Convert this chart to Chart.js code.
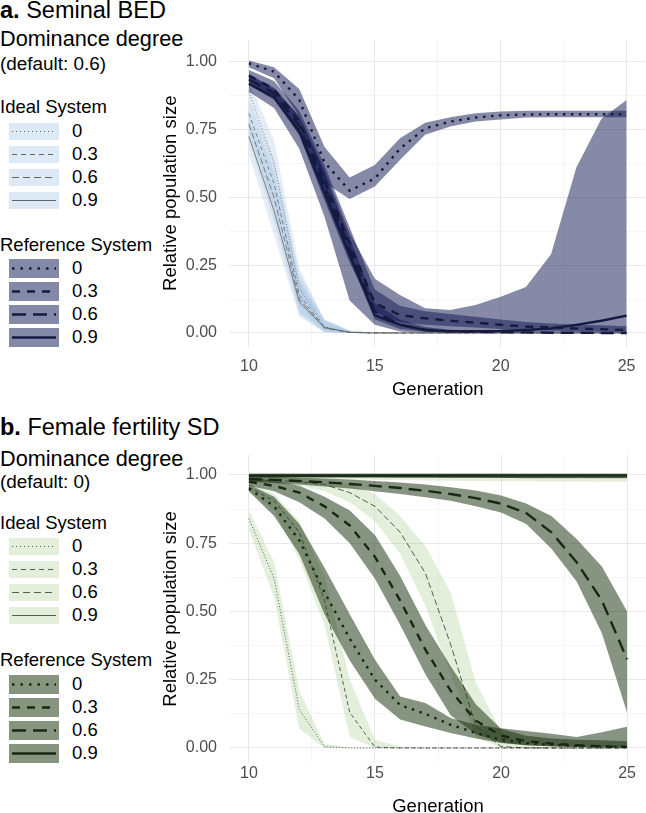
<!DOCTYPE html>
<html>
<head>
<meta charset="utf-8">
<script src="https://cdn.jsdelivr.net/npm/chart.js@4"></script>
<style>
  body { margin: 0; width: 646px; height: 813px; overflow: hidden; background: #fff; position: relative;
         font-family: 'Liberation Sans', Arial, sans-serif; }
  .t { position: absolute; left: 0; white-space: nowrap; line-height: 1; color: #000; }
  .sw { position: absolute; left: 9px; width: 50px; }
  .sw svg { display: block; }
  canvas { position: absolute; left: 150px; }
</style>
</head>
<body>
<div class="t" style="top:-1.5px;font-size:23.5px"><b>a.</b> Seminal BED</div>
<div class="t" style="top:28.3px;font-size:21.7px">Dominance degree</div>
<div class="t" style="top:55px;font-size:18.9px">(default: 0.6)</div>
<div class="t" style="top:98px;font-size:18.5px">Ideal System</div>
<div class="t" style="top:236px;font-size:18.5px">Reference System</div>

<div class="t" style="top:416px;font-size:23.5px"><b>b.</b> Female fertility SD</div>
<div class="t" style="top:447.6px;font-size:21.7px">Dominance degree</div>
<div class="t" style="top:473px;font-size:18.9px">(default: 0)</div>
<div class="t" style="top:513.5px;font-size:18.5px">Ideal System</div>
<div class="t" style="top:651px;font-size:18.5px">Reference System</div>

<div id="legends"></div>
<canvas id="bed" width="496" height="405" style="top:0px"></canvas>
<canvas id="ff" width="496" height="410" style="top:415px"></canvas>

<script>
// generations en as-ticks
const gens = [10, 11, 12, 13, 14, 15, 16, 17, 18, 19, 20, 21, 22, 23, 24, 25];
const dominance = ['0', '0.3', '0.6', '0.9'];
const yTicks = [0, 0.25, 0.5, 0.75, 1];
const yTickLabels = ['0.00', '0.25', '0.50', '0.75', '1.00'];
const yMinor = [0.125, 0.375, 0.625, 0.875];
const xTicks = [10, 15, 20, 25];
const xTickLabels = ['10', '15', '20', '25'];
const xMinor = [12.5, 17.5, 22.5];

// a. Seminal BED - ideal system
const bedIdeal0    = [0.89, 0.63, 0.165, 0.023, 0.002, 0, 0, 0, 0, 0, 0, 0, 0, 0, 0, 0];
const bedIdeal0Lo  = [0.84, 0.55, 0.10, 0.005, 0, 0, 0, 0, 0, 0, 0, 0, 0, 0, 0, 0];
const bedIdeal0Hi  = [0.93, 0.71, 0.24, 0.05, 0.008, 0.002, 0, 0, 0, 0, 0, 0, 0, 0, 0, 0];
const bedIdeal03   = [0.81, 0.55, 0.14, 0.02, 0.002, 0, 0, 0, 0, 0, 0, 0, 0, 0, 0, 0];
const bedIdeal03Lo = [0.75, 0.46, 0.08, 0.004, 0, 0, 0, 0, 0, 0, 0, 0, 0, 0, 0, 0];
const bedIdeal03Hi = [0.86, 0.64, 0.22, 0.05, 0.01, 0.002, 0, 0, 0, 0, 0, 0, 0, 0, 0, 0];
const bedIdeal06   = [0.77, 0.50, 0.125, 0.018, 0.002, 0, 0, 0, 0, 0, 0, 0, 0, 0, 0, 0];
const bedIdeal06Lo = [0.71, 0.41, 0.07, 0.003, 0, 0, 0, 0, 0, 0, 0, 0, 0, 0, 0, 0];
const bedIdeal06Hi = [0.83, 0.59, 0.20, 0.045, 0.008, 0.001, 0, 0, 0, 0, 0, 0, 0, 0, 0, 0];
const bedIdeal09   = [0.725, 0.45, 0.115, 0.02, 0.002, 0, 0, 0, 0, 0, 0, 0, 0, 0, 0, 0];
const bedIdeal09Lo = [0.66, 0.36, 0.06, 0.003, 0, 0, 0, 0, 0, 0, 0, 0, 0, 0, 0, 0];
const bedIdeal09Hi = [0.79, 0.54, 0.19, 0.045, 0.008, 0.001, 0, 0, 0, 0, 0, 0, 0, 0, 0, 0];

// a. Seminal BED - reference system
const bedRef0    = [0.995, 0.964, 0.86, 0.63, 0.525, 0.57, 0.68, 0.755, 0.78, 0.795, 0.803, 0.806, 0.807, 0.807, 0.807, 0.807];
const bedRef0Lo  = [0.98, 0.94, 0.80, 0.555, 0.494, 0.54, 0.638, 0.731, 0.762, 0.78, 0.788, 0.795, 0.796, 0.796, 0.796, 0.796];
const bedRef0Hi  = [1.005, 0.98, 0.90, 0.687, 0.574, 0.62, 0.718, 0.776, 0.796, 0.811, 0.817, 0.82, 0.82, 0.82, 0.82, 0.82];
const bedRef03   = [0.95, 0.90, 0.78, 0.56, 0.33, 0.11, 0.066, 0.054, 0.045, 0.038, 0.030, 0.024, 0.021, 0.016, 0.014, 0.011];
const bedRef03Lo = [0.93, 0.87, 0.73, 0.49, 0.26, 0.075, 0.04, 0.03, 0.025, 0.02, 0.015, 0.01, 0.008, 0.005, 0.004, 0.003];
const bedRef03Hi = [0.97, 0.93, 0.82, 0.62, 0.39, 0.16, 0.10, 0.08, 0.07, 0.06, 0.05, 0.04, 0.035, 0.03, 0.028, 0.025];
const bedRef06   = [0.935, 0.885, 0.765, 0.545, 0.31, 0.08, 0.03, 0.012, 0.006, 0.004, 0.003, 0.002, 0.001, 0.001, 0, 0];
const bedRef06Lo = [0.915, 0.86, 0.73, 0.50, 0.27, 0.05, 0.015, 0.004, 0.001, 0, 0, 0, 0, 0, 0, 0];
const bedRef06Hi = [0.955, 0.905, 0.80, 0.59, 0.35, 0.11, 0.05, 0.022, 0.012, 0.009, 0.007, 0.005, 0.004, 0.003, 0.002, 0.002];
const bedRef09   = [0.92, 0.87, 0.745, 0.52, 0.29, 0.065, 0.03, 0.011, 0.006, 0.006, 0.007, 0.011, 0.017, 0.03, 0.045, 0.064];
const bedRef09Lo = [0.89, 0.83, 0.68, 0.43, 0.12, 0.03, 0.005, 0, 0, 0, 0, 0, 0, 0, 0, 0];
const bedRef09Hi = [0.95, 0.90, 0.80, 0.60, 0.37, 0.20, 0.14, 0.091, 0.085, 0.103, 0.134, 0.17, 0.29, 0.61, 0.79, 0.86];

// b. Female fertility SD - ideal system
const ffIdeal0    = [0.84, 0.62, 0.14, 0.005, 0, 0, 0, 0, 0, 0, 0, 0, 0, 0, 0, 0];
const ffIdeal0Lo  = [0.80, 0.55, 0.07, 0, 0, 0, 0, 0, 0, 0, 0, 0, 0, 0, 0, 0];
const ffIdeal0Hi  = [0.87, 0.68, 0.21, 0.015, 0.002, 0, 0, 0, 0, 0, 0, 0, 0, 0, 0, 0];
const ffIdeal03   = [0.955, 0.905, 0.79, 0.54, 0.13, 0.003, 0, 0, 0, 0, 0, 0, 0, 0, 0, 0];
const ffIdeal03Lo = [0.94, 0.87, 0.69, 0.45, 0.04, 0, 0, 0, 0, 0, 0, 0, 0, 0, 0, 0];
const ffIdeal03Hi = [0.97, 0.93, 0.83, 0.63, 0.25, 0.03, 0.005, 0, 0, 0, 0, 0, 0, 0, 0, 0];
const ffIdeal06   = [0.985, 0.98, 0.975, 0.965, 0.935, 0.885, 0.79, 0.64, 0.38, 0.08, 0.005, 0, 0, 0, 0, 0];
const ffIdeal06Lo = [0.975, 0.97, 0.96, 0.94, 0.90, 0.83, 0.71, 0.52, 0.27, 0.04, 0, 0, 0, 0, 0, 0];
const ffIdeal06Hi = [0.995, 0.99, 0.99, 0.985, 0.965, 0.93, 0.85, 0.74, 0.57, 0.24, 0.06, 0.01, 0, 0, 0, 0];
const ffIdeal09   = [0.995, 0.995, 0.995, 0.995, 0.994, 0.994, 0.993, 0.993, 0.992, 0.992, 0.991, 0.99, 0.99, 0.99, 0.99, 0.99];
const ffIdeal09Lo = [0.985, 0.985, 0.985, 0.984, 0.983, 0.982, 0.981, 0.98, 0.979, 0.978, 0.977, 0.977, 0.976, 0.976, 0.975, 0.975];
const ffIdeal09Hi = [1.0, 1.0, 1.0, 1.0, 1.0, 1.0, 1.0, 1.0, 1.0, 1.0, 1.0, 1.0, 1.0, 1.0, 1.0, 1.0];

// b. Female fertility SD - reference system
const ffRef0    = [0.95, 0.885, 0.76, 0.57, 0.40, 0.25, 0.157, 0.125, 0.085, 0.055, 0.03, 0.018, 0.012, 0.008, 0.006, 0.004];
const ffRef0Lo  = [0.94, 0.85, 0.71, 0.49, 0.32, 0.18, 0.104, 0.079, 0.055, 0.035, 0.018, 0.01, 0.006, 0.004, 0.003, 0.002];
const ffRef0Hi  = [0.965, 0.92, 0.82, 0.66, 0.49, 0.323, 0.189, 0.165, 0.11, 0.085, 0.072, 0.062, 0.052, 0.04, 0.058, 0.078];
const ffRef03   = [0.975, 0.96, 0.935, 0.885, 0.815, 0.70, 0.54, 0.36, 0.21, 0.10, 0.045, 0.025, 0.016, 0.01, 0.006, 0.004];
const ffRef03Lo = [0.96, 0.94, 0.90, 0.84, 0.75, 0.62, 0.45, 0.27, 0.12, 0.05, 0.02, 0.01, 0.005, 0.003, 0.002, 0.001];
const ffRef03Hi = [0.99, 0.98, 0.96, 0.92, 0.87, 0.78, 0.63, 0.45, 0.30, 0.16, 0.07, 0.045, 0.035, 0.03, 0.028, 0.025];
const ffRef06   = [0.985, 0.982, 0.978, 0.973, 0.967, 0.96, 0.952, 0.942, 0.93, 0.915, 0.895, 0.86, 0.79, 0.68, 0.54, 0.325];
const ffRef06Lo = [0.975, 0.97, 0.965, 0.958, 0.95, 0.94, 0.93, 0.918, 0.905, 0.885, 0.862, 0.82, 0.73, 0.61, 0.42, 0.13];
const ffRef06Hi = [0.995, 0.993, 0.99, 0.987, 0.983, 0.978, 0.972, 0.965, 0.955, 0.943, 0.925, 0.895, 0.85, 0.765, 0.665, 0.50];
const ffRef09   = [0.998, 0.998, 0.998, 0.998, 0.998, 0.998, 0.998, 0.998, 0.998, 0.998, 0.998, 0.998, 0.998, 0.998, 0.998, 0.998];
const ffRef09Lo = [0.99, 0.99, 0.99, 0.99, 0.99, 0.99, 0.99, 0.99, 0.99, 0.99, 0.99, 0.99, 0.99, 0.99, 0.99, 0.99];
const ffRef09Hi = [1.005, 1.005, 1.005, 1.005, 1.005, 1.005, 1.005, 1.005, 1.005, 1.005, 1.005, 1.005, 1.005, 1.005, 1.005, 1.005];

// lijnstijlen per dominantie (0, 0.3, 0.6, 0.9)
const idealDash = [[1, 2], [4, 3], [6, 3], []];
const refDash = [[2.5, 5.5], [8, 7], [13, 7], []];
const idealLegendDash = [[1, 3], [5, 4], [7, 4], []];
const refLegendDash = [[2.5, 6], [8, 7], [14, 7], []];

Chart.defaults.font.family = "'Liberation Sans', Arial, sans-serif";

const pts = vals => vals.map((v, i) => ({ x: gens[i], y: v }));
const clear = 'rgba(0,0,0,0)';

function makePanel(id, p) {
    const datasets = [];
    // ribbons: boven -> onder gevuld
    p.ideal.forEach(s => {
        datasets.push({ data: pts(s.hi), fill: '+1', backgroundColor: p.idealFill, borderColor: clear, borderWidth: 0, pointRadius: 0, order: 3 });
        datasets.push({ data: pts(s.lo), fill: false, borderColor: clear, borderWidth: 0, pointRadius: 0, order: 3 });
    });
    p.ref.forEach(s => {
        datasets.push({ data: pts(s.hi), fill: '+1', backgroundColor: p.refFill, borderColor: clear, borderWidth: 0, pointRadius: 0, order: 2 });
        datasets.push({ data: pts(s.lo), fill: false, borderColor: clear, borderWidth: 0, pointRadius: 0, order: 2 });
    });
    p.ideal.forEach((s, i) => {
        datasets.push({ data: pts(s.mean), fill: false, borderColor: p.idealLine, borderWidth: 0.8, borderDash: idealDash[i], pointRadius: 0, order: 1 });
    });
    p.ref.forEach((s, i) => {
        datasets.push({ data: pts(s.mean), fill: false, borderColor: p.refLine, borderWidth: 2.4, borderDash: refDash[i], pointRadius: 0, order: 0 });
    });

    new Chart(document.getElementById(id), {
        type: 'line',
        data: { datasets: datasets },
        options: {
            responsive: false,
            animation: false,
            layout: { padding: { top: 40, left: 0, right: 0, bottom: 0 } },
            plugins: { legend: { display: false }, tooltip: { enabled: false } },
            elements: { line: { tension: 0 } },
            scales: {
                x: {
                    type: 'linear',
                    min: 9.25,
                    max: 25.75,
                    afterBuildTicks: s => { s.ticks = xTicks.concat(xMinor).sort((a, b) => a - b).map(v => ({ value: v })); },
                    afterFit: s => { s.height = p.xHeight; },
                    border: { display: false },
                    grid: {
                        drawTicks: false,
                        color: c => xTicks.includes(c.tick.value) ? '#e8e8e8' : '#f3f3f3',
                        lineWidth: c => xTicks.includes(c.tick.value) ? 1 : 0.8,
                    },
                    ticks: {
                        autoSkip: false, maxRotation: 0, padding: p.xPad, color: '#4d4d4d', font: { size: 16 },
                        callback: v => { const k = xTicks.indexOf(v); return k >= 0 ? xTickLabels[k] : ''; },
                    },
                    title: { display: true, text: 'Generation', color: '#000', font: { size: 18.5 }, padding: { top: 0, bottom: p.titlePad } },
                },
                y: {
                    min: p.yMin,
                    max: p.yMax,
                    afterBuildTicks: s => { s.ticks = yTicks.concat(yMinor).sort((a, b) => a - b).map(v => ({ value: v })); },
                    afterFit: s => { s.width = 80; },
                    border: { display: false },
                    grid: {
                        drawTicks: false,
                        color: c => yTicks.includes(c.tick.value) ? '#e8e8e8' : '#f3f3f3',
                        lineWidth: c => yTicks.includes(c.tick.value) ? 1 : 0.8,
                    },
                    ticks: {
                        padding: 13, color: '#4d4d4d', font: { size: 16 },
                        callback: v => { const k = yTicks.indexOf(v); return k >= 0 ? yTickLabels[k] : ''; },
                    },
                    title: { display: true, text: 'Relative population size', color: '#000', font: { size: 18.5 }, padding: { top: 10, bottom: 0 } },
                },
            },
        },
    });
}

makePanel('bed', {
    yMin: -0.05, yMax: 1.081, xHeight: 58.5, xPad: 10.5, titlePad: 4,
    idealFill: 'rgba(158,192,224,0.28)', refFill: 'rgba(15,22,80,0.5)',
    idealLine: '#666', refLine: '#151a40',
    ideal: [
        { mean: bedIdeal0, lo: bedIdeal0Lo, hi: bedIdeal0Hi },
        { mean: bedIdeal03, lo: bedIdeal03Lo, hi: bedIdeal03Hi },
        { mean: bedIdeal06, lo: bedIdeal06Lo, hi: bedIdeal06Hi },
        { mean: bedIdeal09, lo: bedIdeal09Lo, hi: bedIdeal09Hi },
    ],
    ref: [
        { mean: bedRef0, lo: bedRef0Lo, hi: bedRef0Hi },
        { mean: bedRef03, lo: bedRef03Lo, hi: bedRef03Hi },
        { mean: bedRef06, lo: bedRef06Lo, hi: bedRef06Hi },
        { mean: bedRef09, lo: bedRef09Lo, hi: bedRef09Hi },
    ],
});

makePanel('ff', {
    yMin: -0.055, yMax: 1.073, xHeight: 62, xPad: 0.5, titlePad: 7,
    idealFill: 'rgba(175,206,152,0.35)', refFill: 'rgba(18,42,5,0.5)',
    idealLine: '#333', refLine: '#172814',
    ideal: [
        { mean: ffIdeal0, lo: ffIdeal0Lo, hi: ffIdeal0Hi },
        { mean: ffIdeal03, lo: ffIdeal03Lo, hi: ffIdeal03Hi },
        { mean: ffIdeal06, lo: ffIdeal06Lo, hi: ffIdeal06Hi },
        { mean: ffIdeal09, lo: ffIdeal09Lo, hi: ffIdeal09Hi },
    ],
    ref: [
        { mean: ffRef0, lo: ffRef0Lo, hi: ffRef0Hi },
        { mean: ffRef03, lo: ffRef03Lo, hi: ffRef03Hi },
        { mean: ffRef06, lo: ffRef06Lo, hi: ffRef06Hi },
        { mean: ffRef09, lo: ffRef09Lo, hi: ffRef09Hi },
    ],
});

// legendes links (HTML, echte tekst)
const legendBox = document.getElementById('legends');
function addLegend(centers, h, fill, stroke, width, dashes) {
    centers.forEach((cy, i) => {
        const sw = document.createElement('div');
        sw.className = 'sw';
        sw.style.top = (cy - h / 2) + 'px';
        sw.style.height = h + 'px';
        sw.style.background = fill;
        sw.innerHTML = '<svg width="50" height="' + h + '"><line x1="3" x2="47" y1="' + (h / 2) + '" y2="' + (h / 2) +
            '" stroke="' + stroke + '" stroke-width="' + width + '" stroke-dasharray="' + dashes[i].join(' ') + '"/></svg>';
        legendBox.appendChild(sw);
        const lab = document.createElement('div');
        lab.className = 't';
        lab.style.left = '72px';
        lab.style.fontSize = '18.5px';
        lab.style.top = (cy - 9.1) + 'px';
        lab.textContent = dominance[i];
        legendBox.appendChild(lab);
    });
}
addLegend([131, 154, 177, 200], 17, '#dde9f4', '#444', 0.8, idealLegendDash);
addLegend([268, 291, 314, 337], 19, '#8589a8', '#151a40', 2.4, refLegendDash);
addLegend([546, 569, 592, 615], 17, '#e3eedb', '#333', 0.8, idealLegendDash);
addLegend([684, 707, 730, 753], 19, '#87957f', '#172814', 2.4, refLegendDash);
</script>
</body>
</html>
